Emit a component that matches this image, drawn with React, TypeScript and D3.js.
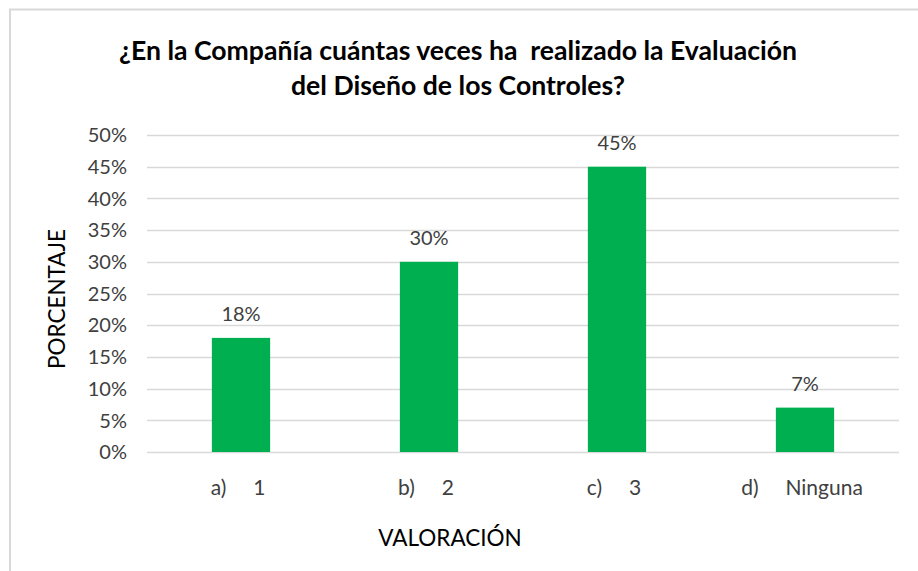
import { useEffect, useRef } from 'react';
import * as d3 from 'd3';

const categories = ['a)     1', 'b)     2', 'c)     3', 'd)     Ninguna'];
const values = [0.18, 0.3, 0.45, 0.07];
const yTicks = [0, 0.05, 0.1, 0.15, 0.2, 0.25, 0.3, 0.35, 0.4, 0.45, 0.5];
const titleLines = [
  '¿En la Compañía cuántas veces ha  realizado la Evaluación',
  'del Diseño de los Controles?',
];

const W = 918;
const H = 571;
const FONT = 'Lato, "Open Sans", sans-serif';

export default function App() {
  const svgRef = useRef<SVGSVGElement | null>(null);

  useEffect(() => {
    if (!svgRef.current) return;
    const svg = d3.select(svgRef.current);
    svg.selectAll('*').remove();

    const margin = { top: 135, right: 19, bottom: 119, left: 147 };
    const width = W - margin.left - margin.right;
    const height = H - margin.top - margin.bottom;

    // chart frame (only top and left edges fall inside the picture)
    svg.append('rect')
      .attr('x', 10).attr('y', 9.5)
      .attr('width', W + 20).attr('height', H + 20)
      .attr('fill', '#fff')
      .attr('stroke', '#d9d9d9')
      .attr('stroke-width', 2);

    // title
    svg.append('text')
      .attr('x', 458)
      .attr('y', 60)
      .attr('text-anchor', 'middle')
      .attr('xml:space', 'preserve')
      .style('font-family', FONT)
      .style('font-weight', 'bold')
      .style('font-size', '26.6px')
      .style('fill', '#000')
      .selectAll('tspan')
      .data(titleLines)
      .enter()
      .append('tspan')
      .attr('x', 458)
      .attr('dy', (_d, i) => (i === 0 ? 0 : 35))
      .style('white-space', 'pre')
      .text((d) => d);

    const g = svg.append('g')
      .attr('transform', `translate(${margin.left},${margin.top})`);

    const x = d3.scaleBand<string>()
      .domain(categories)
      .range([0, width])
      .paddingInner(0.69)
      .paddingOuter(0.345);

    const y = d3.scaleLinear().domain([0, 0.5]).range([height, 0]);

    // gridlines
    g.selectAll('line.grid')
      .data(yTicks)
      .enter()
      .append('line')
      .attr('class', 'grid')
      .attr('x1', 0)
      .attr('x2', width)
      .attr('y1', (d) => Math.round(y(d)) + 0.5)
      .attr('y2', (d) => Math.round(y(d)) + 0.5)
      .attr('stroke', '#d9d9d9')
      .attr('stroke-width', 1.3);

    // y tick labels
    g.selectAll('text.ytick')
      .data(yTicks)
      .enter()
      .append('text')
      .attr('class', 'ytick')
      .attr('x', -20)
      .attr('y', (d) => y(d))
      .attr('dy', '0.36em')
      .attr('text-anchor', 'end')
      .style('font-family', FONT)
      .style('font-size', '20px')
      .style('fill', '#404040')
      .text((d) => d3.format('.0%')(d));

    // bars
    g.selectAll('rect.bar')
      .data(values)
      .enter()
      .append('rect')
      .attr('class', 'bar')
      .attr('x', (_d, i) => x(categories[i]) as number)
      .attr('y', (d) => y(d))
      .attr('width', x.bandwidth())
      .attr('height', (d) => height - y(d))
      .attr('fill', '#00b050');

    // value labels
    g.selectAll('text.val')
      .data(values)
      .enter()
      .append('text')
      .attr('class', 'val')
      .attr('x', (_d, i) => (x(categories[i]) as number) + x.bandwidth() / 2)
      .attr('y', (d) => y(d) - 17)
      .attr('text-anchor', 'middle')
      .style('font-family', FONT)
      .style('font-size', '20px')
      .style('fill', '#404040')
      .text((d) => d3.format('.0%')(d));

    // category labels
    g.selectAll('text.cat')
      .data(categories)
      .enter()
      .append('text')
      .attr('class', 'cat')
      .attr('x', (d) => (x(d) as number) + x.bandwidth() / 2 - 3)
      .attr('y', height + 43)
      .attr('text-anchor', 'middle')
      .attr('xml:space', 'preserve')
      .style('font-family', FONT)
      .style('font-size', '21px')
      .style('fill', '#404040')
      .style('white-space', 'pre')
      .text((d) => d);

    // axis titles
    svg.append('text')
      .attr('x', 450)
      .attr('y', 546)
      .attr('text-anchor', 'middle')
      .style('font-family', FONT)
      .style('font-size', '22.5px')
      .style('fill', '#000')
      .text('VALORACIÓN');

    svg.append('text')
      .attr('transform', 'translate(57,299) rotate(-90)')
      .attr('dy', '0.36em')
      .attr('text-anchor', 'middle')
      .style('font-family', FONT)
      .style('font-size', '22.5px')
      .style('fill', '#000')
      .text('PORCENTAJE');
  }, []);

  return (
    <div style={{ position: 'absolute', left: 0, top: 0 }}>
      <svg ref={svgRef} width={W} height={H} style={{ display: 'block' }} />
    </div>
  );
}
